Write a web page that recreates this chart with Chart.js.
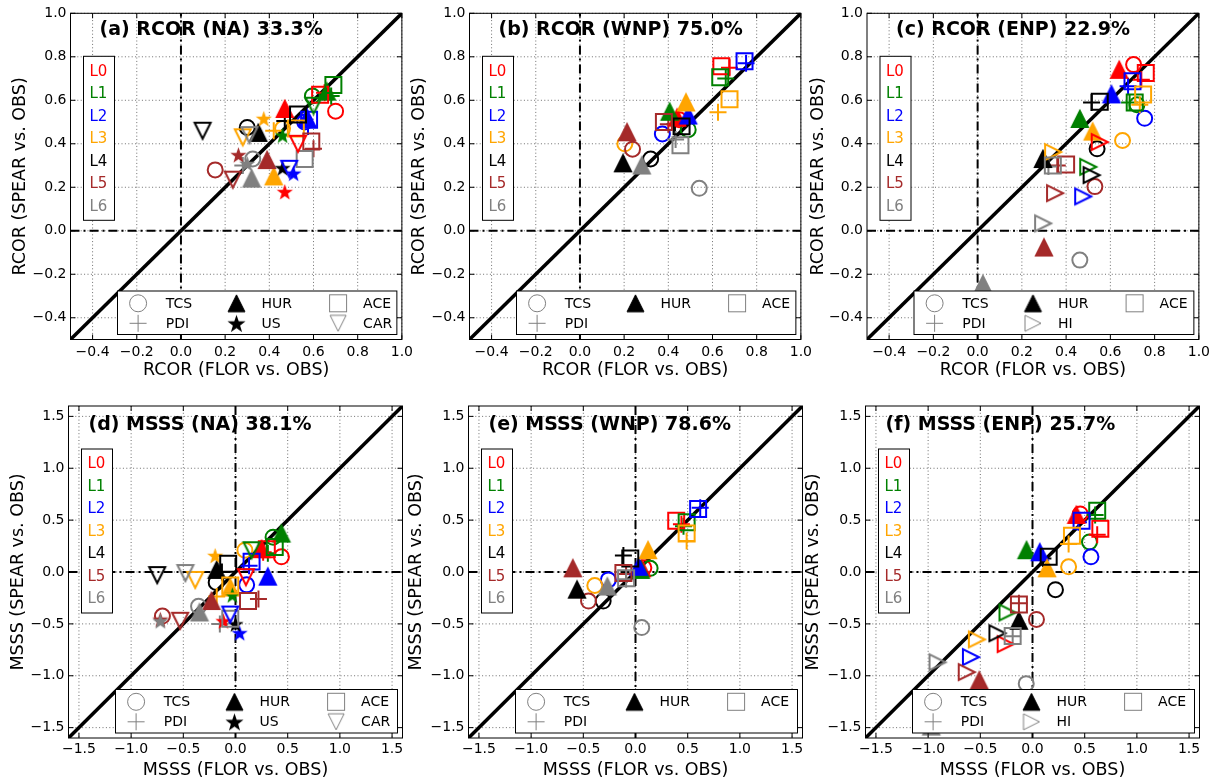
<!DOCTYPE html>
<html>
<head>
<meta charset="utf-8">
<script src="https://cdn.jsdelivr.net/npm/chart.js@4/dist/chart.umd.min.js"></script>
<style>
  body { margin: 0; background: #fff; width: 1218px; height: 782px; overflow: hidden; position: relative; }
  canvas { position: absolute; }
</style>
</head>
<body>
<canvas id="pa"></canvas>
<canvas id="pb"></canvas>
<canvas id="pc"></canvas>
<canvas id="pd"></canvas>
<canvas id="pe"></canvas>
<canvas id="pf"></canvas>
<script>
// ---- data: every series is [x (FLOR vs. OBS), y (SPEAR vs. OBS)] for leads L0..L6
const leads = ['L0', 'L1', 'L2', 'L3', 'L4', 'L5', 'L6'];
const leadColors = ['#ff0000', '#008000', '#0000ff', '#ffa500', '#000000', '#a52a2a', '#808080'];

const rcorTicks = [-0.4, -0.2, 0.0, 0.2, 0.4, 0.6, 0.8, 1.0];
const rcorRange = [-0.5, 1.0];
const msssTicks = [-1.5, -1.0, -0.5, 0.0, 0.5, 1.0, 1.5];
const msssRange = [-1.6, 1.6];

// (a) RCOR NA
const naRcorTCS = [[0.70, 0.55], [0.595, 0.62], [0.56, 0.50], [0.46, 0.47], [0.30, 0.475], [0.155, 0.28], [0.325, 0.33]];
const naRcorPDI = [[0.65, 0.635], [0.68, 0.62], [0.575, 0.48], [0.42, 0.46], [0.47, 0.505], [0.60, 0.377], [0.28, 0.30]];
const naRcorHUR = [[0.47, 0.56], [0.66, 0.64], [0.57, 0.52], [0.42, 0.25], [0.35, 0.45], [0.39, 0.325], [0.32, 0.24]];
const naRcorUS  = [[0.47, 0.18], [0.46, 0.44], [0.51, 0.265], [0.375, 0.517], [0.46, 0.29], [0.26, 0.35], [0.30, 0.31]];
const naRcorACE = [[0.63, 0.625], [0.69, 0.67], [0.58, 0.51], [0.52, 0.47], [0.53, 0.535], [0.59, 0.41], [0.56, 0.33]];
const naRcorCAR = [[0.53, 0.40], [0.60, 0.575], [0.49, 0.285], [0.28, 0.43], [0.098, 0.46], [0.235, 0.235], [0.31, 0.44]];

// (b) RCOR WNP
const wnpRcorTCS = [[0.45, 0.51], [0.49, 0.465], [0.373, 0.445], [0.203, 0.40], [0.32, 0.33], [0.238, 0.375], [0.54, 0.195]];
const wnpRcorPDI = [[0.677, 0.75], [0.66, 0.70], [0.752, 0.77], [0.625, 0.545], [0.43, 0.49], [0.40, 0.49], [0.433, 0.42]];
const wnpRcorHUR = [[0.44, 0.52], [0.406, 0.547], [0.49, 0.53], [0.48, 0.59], [0.195, 0.31], [0.213, 0.453], [0.28, 0.30]];
const wnpRcorACE = [[0.64, 0.756], [0.635, 0.706], [0.745, 0.78], [0.677, 0.605], [0.46, 0.48], [0.38, 0.50], [0.455, 0.393]];

// (c) RCOR ENP
const enpRcorTCS = [[0.705, 0.764], [0.72, 0.58], [0.755, 0.517], [0.655, 0.415], [0.54, 0.377], [0.53, 0.203], [0.462, -0.135]];
const enpRcorPDI = [[0.74, 0.695], [0.687, 0.59], [0.68, 0.665], [0.733, 0.58], [0.515, 0.59], [0.36, 0.30], [0.32, 0.295]];
const enpRcorHUR = [[0.64, 0.74], [0.462, 0.514], [0.605, 0.627], [0.52, 0.456], [0.295, 0.33], [0.30, -0.077], [0.024, -0.245]];
const enpRcorHI  = [[0.552, 0.408], [0.50, 0.294], [0.477, 0.158], [0.341, 0.362], [0.515, 0.256], [0.35, 0.173], [0.296, 0.034]];
const enpRcorACE = [[0.76, 0.726], [0.71, 0.59], [0.70, 0.688], [0.748, 0.627], [0.552, 0.593], [0.40, 0.305], [0.34, 0.30]];

// (d) MSSS NA
const naMsssTCS = [[0.44, 0.146], [0.36, 0.336], [0.107, -0.124], [0.09, 0.21], [-0.185, -0.10], [-0.70, -0.425], [-0.354, -0.33]];
const naMsssPDI = [[0.265, 0.19], [0.31, 0.18], [0.13, 0.06], [-0.18, -0.235], [-0.13, 0.0], [0.22, -0.26], [-0.15, -0.50]];
const naMsssHUR = [[0.25, 0.22], [0.44, 0.37], [0.31, -0.045], [-0.05, -0.15], [-0.18, 0.02], [-0.23, -0.28], [-0.345, -0.39]];
const naMsssUS  = [[-0.116, -0.47], [-0.03, -0.22], [0.04, -0.585], [-0.195, 0.16], [0.0, -0.50], [-0.72, -0.455], [-0.72, -0.47]];
const naMsssACE = [[0.30, 0.22], [0.376, 0.24], [0.154, 0.10], [-0.05, -0.13], [-0.07, 0.08], [0.12, -0.28], [-0.05, -0.45]];
const naMsssCAR = [[0.10, -0.05], [0.154, 0.21], [-0.05, -0.41], [-0.386, -0.076], [-0.75, -0.03], [-0.53, -0.47], [-0.48, -0.01]];

// (e) MSSS WNP
const wnpMsssTCS = [[0.08, 0.04], [0.14, 0.035], [-0.26, -0.076], [-0.39, -0.13], [-0.31, -0.28], [-0.45, -0.28], [0.06, -0.536]];
const wnpMsssPDI = [[0.44, 0.46], [0.46, 0.44], [0.62, 0.62], [0.49, 0.30], [-0.116, 0.16], [-0.09, -0.02], [-0.09, -0.07]];
const wnpMsssHUR = [[0.06, 0.035], [0.05, 0.02], [0.03, 0.05], [0.12, 0.21], [-0.56, -0.17], [-0.60, 0.035], [-0.27, -0.14]];
const wnpMsssACE = [[0.39, 0.495], [0.49, 0.48], [0.60, 0.607], [0.49, 0.37], [-0.05, 0.13], [-0.116, -0.01], [-0.09, -0.06]];

// (f) MSSS ENP
const enpMsssTCS = [[0.457, 0.56], [0.546, 0.29], [0.56, 0.146], [0.346, 0.05], [0.22, -0.17], [0.038, -0.457], [-0.06, -1.076]];
const enpMsssPDI = [[0.62, 0.36], [0.60, 0.55], [0.44, 0.48], [0.346, 0.27], [0.10, 0.13], [-0.13, -0.30], [-0.19, -0.62]];
const enpMsssHUR = [[0.42, 0.55], [-0.057, 0.21], [0.07, 0.19], [0.14, 0.035], [-0.13, -0.47], [-0.51, -1.045], [-0.97, -1.49]];
const enpMsssHI  = [[-0.257, -0.695], [-0.24, -0.39], [-0.59, -0.82], [-0.533, -0.65], [-0.336, -0.59], [-0.63, -0.965], [-0.91, -0.87]];
const enpMsssACE = [[0.65, 0.416], [0.62, 0.59], [0.47, 0.495], [0.378, 0.35], [0.155, 0.146], [-0.13, -0.314], [-0.19, -0.616]];

// ---- panels
const panels = [
  { id: 'pa', title: '(a) RCOR (NA) 33.3%', metric: 'RCOR', ticks: rcorTicks, range: rcorRange,
    series: { TCS: naRcorTCS, PDI: naRcorPDI, HUR: naRcorHUR, US: naRcorUS, ACE: naRcorACE, CAR: naRcorCAR },
    legendCols: [['TCS', 'PDI'], ['HUR', 'US'], ['ACE', 'CAR']],
    box: { left: 6, top: 0, right: 417, bottom: 385 }, area: { L: 70.5, T: 9.5, R: 403, B: 339.5 } },
  { id: 'pb', title: '(b) RCOR (WNP) 75.0%', metric: 'RCOR', ticks: rcorTicks, range: rcorRange,
    series: { TCS: wnpRcorTCS, PDI: wnpRcorPDI, HUR: wnpRcorHUR, ACE: wnpRcorACE },
    legendCols: [['TCS', 'PDI'], ['HUR'], ['ACE']],
    box: { left: 405, top: 0, right: 816, bottom: 385 }, area: { L: 469.5, T: 9.5, R: 801.5, B: 339.5 } },
  { id: 'pc', title: '(c) RCOR (ENP) 22.9%', metric: 'RCOR', ticks: rcorTicks, range: rcorRange,
    series: { TCS: enpRcorTCS, PDI: enpRcorPDI, HUR: enpRcorHUR, HI: enpRcorHI, ACE: enpRcorACE },
    legendCols: [['TCS', 'PDI'], ['HUR', 'HI'], ['ACE']],
    box: { left: 804, top: 0, right: 1214, bottom: 385 }, area: { L: 867, T: 9.5, R: 1199.5, B: 339.5 } },
  { id: 'pd', title: '(d) MSSS (NA) 38.1%', metric: 'MSSS', ticks: msssTicks, range: msssRange,
    series: { TCS: naMsssTCS, PDI: naMsssPDI, HUR: naMsssHUR, US: naMsssUS, ACE: naMsssACE, CAR: naMsssCAR },
    legendCols: [['TCS', 'PDI'], ['HUR', 'US'], ['ACE', 'CAR']],
    box: { left: 4, top: 392, right: 417, bottom: 782 }, area: { L: 68.5, T: 406, R: 402.5, B: 738 } },
  { id: 'pe', title: '(e) MSSS (WNP) 78.6%', metric: 'MSSS', ticks: msssTicks, range: msssRange,
    series: { TCS: wnpMsssTCS, PDI: wnpMsssPDI, HUR: wnpMsssHUR, ACE: wnpMsssACE },
    legendCols: [['TCS', 'PDI'], ['HUR'], ['ACE']],
    box: { left: 402, top: 392, right: 817, bottom: 782 }, area: { L: 468.5, T: 406, R: 802.5, B: 738 } },
  { id: 'pf', title: '(f) MSSS (ENP) 25.7%', metric: 'MSSS', ticks: msssTicks, range: msssRange,
    series: { TCS: enpMsssTCS, PDI: enpMsssPDI, HUR: enpMsssHUR, HI: enpMsssHI, ACE: enpMsssACE },
    legendCols: [['TCS', 'PDI'], ['HUR', 'HI'], ['ACE']],
    box: { left: 799, top: 392, right: 1214, bottom: 782 }, area: { L: 865.5, T: 406, R: 1199.5, B: 738 } }
];

Chart.defaults.font.family = '"DejaVu Sans", sans-serif';
Chart.defaults.color = '#000';

// ---- marker images (matplotlib-like triangles and stars)
function tri(dir, color, filled, size, lw) {
  size = size || 16; lw = lw || 2;
  const c = document.createElement('canvas');
  c.width = c.height = Math.ceil(size + 2 * lw + 4);
  const g = c.getContext('2d'), m = c.width / 2, h = size / 2;
  g.translate(m, m);
  g.rotate(dir * Math.PI / 180);
  g.beginPath(); g.moveTo(0, -h); g.lineTo(h, h); g.lineTo(-h, h); g.closePath();
  g.lineWidth = lw; g.strokeStyle = color;
  if (filled) { g.fillStyle = color; g.fill(); }
  g.stroke();
  return c;
}
function star(color, r) {
  r = r || 8.5;
  const c = document.createElement('canvas');
  c.width = c.height = Math.ceil(2 * r + 4);
  const g = c.getContext('2d'), m = c.width / 2;
  g.beginPath();
  for (let i = 0; i < 10; i++) {
    const rr = i % 2 ? r * 0.4 : r, a = -Math.PI / 2 + i * Math.PI / 5;
    g.lineTo(m + rr * Math.cos(a), m + 1 + rr * Math.sin(a));
  }
  g.closePath();
  g.fillStyle = color; g.fill();
  return c;
}

const seriesStyle = {
  TCS: { style: 'circle', radius: 7.5 },
  PDI: { style: 'cross', radius: 8.5 },
  ACE: { style: 'rect', radius: 11.3 },
  HUR: { img: c => tri(0, c, true) },
  US:  { img: c => star(c) },
  CAR: { img: c => tri(180, c, false) },
  HI:  { img: c => tri(90, c, false) }
};

const legendHUR = tri(0, '#000', true, 17, 1);
const legendUS = star('#000', 9.5);
const legendCAR = tri(180, '#808080', false, 16, 1);
const legendHI = tri(90, '#808080', false, 16, 1);

function drawLegendMarker(ctx, name, x, y) {
  ctx.save();
  ctx.strokeStyle = '#808080'; ctx.lineWidth = 1;
  const img = { HUR: legendHUR, US: legendUS, CAR: legendCAR, HI: legendHI }[name];
  if (img) {
    ctx.drawImage(img, x - img.width / 2, y - img.height / 2);
  } else if (name === 'TCS') {
    ctx.beginPath(); ctx.arc(x, y, 8.5, 0, 2 * Math.PI); ctx.stroke();
  } else if (name === 'PDI') {
    ctx.beginPath(); ctx.moveTo(x - 8.5, y); ctx.lineTo(x + 8.5, y);
    ctx.moveTo(x, y - 8.5); ctx.lineTo(x, y + 8.5); ctx.stroke();
  } else if (name === 'ACE') {
    ctx.strokeRect(x - 8.5, y - 8.5, 17, 17);
  }
  ctx.restore();
}

function fmt(v) {
  return (v < 0 ? '\u2212' : '') + Math.abs(v).toFixed(1);
}

function decor(p) {
  return {
    id: 'decor',
    beforeDatasetsDraw(chart) {
      const { ctx, chartArea: a, scales: { x, y } } = chart;
      ctx.save();
      ctx.strokeStyle = '#6e6e6e'; ctx.lineWidth = 1; ctx.setLineDash([1, 2.4]);
      p.ticks.forEach(v => {
        const px = x.getPixelForValue(v), py = y.getPixelForValue(v);
        ctx.beginPath(); ctx.moveTo(px, a.top); ctx.lineTo(px, a.bottom); ctx.stroke();
        ctx.beginPath(); ctx.moveTo(a.left, py); ctx.lineTo(a.right, py); ctx.stroke();
      });
      ctx.restore();
    },
    afterDatasetsDraw(chart) {
      const { ctx, chartArea: a, scales: { x, y } } = chart;
      ctx.save();
      // frame + inward ticks
      ctx.strokeStyle = '#000'; ctx.lineWidth = 1;
      ctx.strokeRect(a.left, a.top, a.right - a.left, a.bottom - a.top);
      ctx.beginPath();
      p.ticks.forEach(v => {
        const px = x.getPixelForValue(v), py = y.getPixelForValue(v);
        ctx.moveTo(px, a.bottom); ctx.lineTo(px, a.bottom - 5);
        ctx.moveTo(px, a.top); ctx.lineTo(px, a.top + 5);
        ctx.moveTo(a.left, py); ctx.lineTo(a.left + 5, py);
        ctx.moveTo(a.right, py); ctx.lineTo(a.right - 5, py);
      });
      ctx.stroke();

      // lead legend
      const bx = a.left + 13, by = a.top + 43;
      ctx.fillStyle = '#fff';
      ctx.fillRect(bx, by, 31, 164);
      ctx.strokeRect(bx, by, 31, 164);
      ctx.font = '15px "DejaVu Sans"';
      ctx.textBaseline = 'middle'; ctx.textAlign = 'left';
      leads.forEach((t, i) => {
        ctx.fillStyle = leadColors[i];
        ctx.fillText(t, bx + 6, a.top + 58.5 + i * 22.5);
      });

      // marker legend
      const lx = a.left + 47, lw = a.right - 5 - lx, lh = 43.5, ly = a.bottom - 5 - lh;
      ctx.fillStyle = '#fff';
      ctx.fillRect(lx, ly, lw, lh);
      ctx.strokeRect(lx, ly, lw, lh);
      const colMark = [20.6, 119, 220.6], colText = [48.3, 144, 245.6], rowY = [12.3, 32.3];
      ctx.font = '14px "DejaVu Sans"';
      p.legendCols.forEach((col, ci) => {
        col.forEach((name, ri) => {
          drawLegendMarker(ctx, name, lx + colMark[ci], ly + rowY[ri]);
          ctx.fillStyle = '#000';
          ctx.fillText(name, lx + colText[ci], ly + rowY[ri] + 1);
        });
      });

      // panel title
      ctx.font = 'bold 19px "DejaVu Sans"';
      ctx.fillStyle = '#000';
      const top = p.metric === 'RCOR';
      ctx.fillText(p.title, a.left + (top ? 29 : 20), a.top + (top ? 17 : 19));
      ctx.restore();
    }
  };
}

panels.forEach(p => {
  const cv = document.getElementById(p.id);
  const w = p.box.right - p.box.left, h = p.box.bottom - p.box.top;
  cv.width = w; cv.height = h;
  cv.style.left = p.box.left + 'px'; cv.style.top = p.box.top + 'px';
  cv.style.width = w + 'px'; cv.style.height = h + 'px';
  const A = p.area, top = p.metric === 'RCOR';
  const [lo, hi] = p.range;

  const datasets = [
    { data: [{ x: lo, y: lo }, { x: hi, y: hi }], showLine: true, borderColor: '#000', borderWidth: 3.5,
      pointRadius: 0, order: 90, clip: 0 },
    { data: [{ x: 0, y: lo }, { x: 0, y: hi }], showLine: true, borderColor: '#000', borderWidth: 2,
      borderDash: [9, 4, 2, 4], pointRadius: 0, order: 95, clip: 0 },
    { data: [{ x: lo, y: 0 }, { x: hi, y: 0 }], showLine: true, borderColor: '#000', borderWidth: 2,
      borderDash: [9, 4, 2, 4], pointRadius: 0, order: 96, clip: 0 }
  ];
  Object.keys(p.series).forEach((name, k) => {
    const st = seriesStyle[name];
    datasets.push({
      label: name,
      data: p.series[name].map(([x, y]) => ({ x, y })),
      order: 50 - k,
      clip: 0,
      showLine: false,
      pointStyle: st.img ? leadColors.map(st.img) : st.style,
      pointRadius: st.radius || 9,
      pointBorderWidth: 2,
      pointBorderColor: leadColors,
      pointBackgroundColor: 'rgba(0,0,0,0)'
    });
  });

  const tickOpts = arr => s => { s.ticks = arr.map(v => ({ value: v })); };

  new Chart(cv, {
    type: 'scatter',
    data: { datasets },
    options: {
      responsive: false,
      animation: false,
      events: [],
      layout: { padding: { left: 0, top: A.T - p.box.top, right: p.box.right - A.R, bottom: 0 } },
      plugins: { legend: { display: false }, tooltip: { enabled: false } },
      scales: {
        x: {
          type: 'linear', min: lo, max: hi,
          afterBuildTicks: tickOpts(p.ticks),
          afterFit: s => { s.height = p.box.bottom - A.B; },
          grid: { display: false, drawTicks: false },
          border: { display: false },
          ticks: { callback: fmt, font: { size: 14 }, padding: top ? 4 : 3, maxRotation: 0, autoSkip: false },
          title: { display: true, text: p.metric + ' (FLOR vs. OBS)', font: { size: 17.5 },
                   padding: { top: 0, bottom: top ? 4.5 : 1.5 } }
        },
        y: {
          type: 'linear', min: lo, max: hi,
          afterBuildTicks: tickOpts(p.ticks),
          afterFit: s => { s.width = A.L - p.box.left; },
          grid: { display: false, drawTicks: false },
          border: { display: false },
          ticks: { callback: fmt, font: { size: 14 }, padding: 4, autoSkip: false },
          title: { display: true, text: p.metric + ' (SPEAR vs. OBS)', font: { size: 17.5 },
                   padding: { top: 3.5, bottom: 0 } }
        }
      }
    },
    plugins: [decor(p)]
  });
});
</script>
</body>
</html>
